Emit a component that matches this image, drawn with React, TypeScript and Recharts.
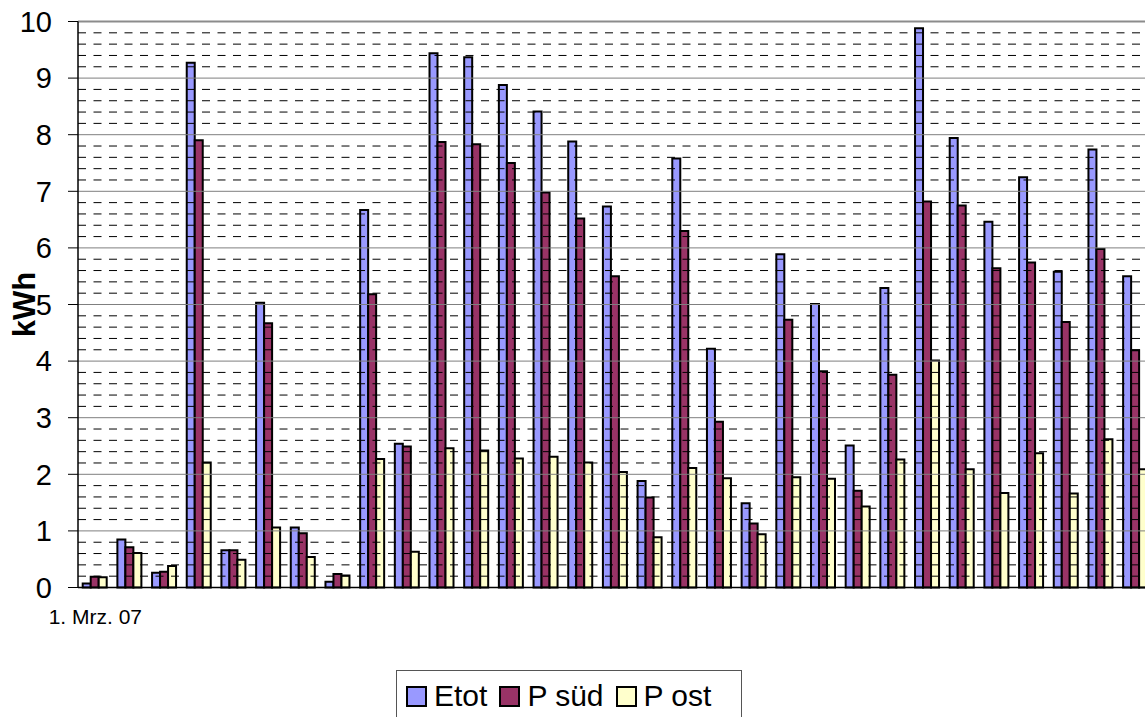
import React from "react";
import { BarChart, Bar, XAxis, YAxis, ReferenceLine } from "recharts";

const days = [
  "1. Mrz. 07", "2. Mrz. 07", "3. Mrz. 07", "4. Mrz. 07", "5. Mrz. 07", "6. Mrz. 07",
  "7. Mrz. 07", "8. Mrz. 07", "9. Mrz. 07", "10. Mrz. 07", "11. Mrz. 07", "12. Mrz. 07",
  "13. Mrz. 07", "14. Mrz. 07", "15. Mrz. 07", "16. Mrz. 07", "17. Mrz. 07", "18. Mrz. 07",
  "19. Mrz. 07", "20. Mrz. 07", "21. Mrz. 07", "22. Mrz. 07", "23. Mrz. 07", "24. Mrz. 07",
  "25. Mrz. 07", "26. Mrz. 07", "27. Mrz. 07", "28. Mrz. 07", "29. Mrz. 07", "30. Mrz. 07",
  "31. Mrz. 07",
];

const etot = [0.07, 0.85, 0.26, 9.27, 0.66, 5.03, 1.06, 0.1, 6.67, 2.54, 9.44, 9.37, 8.88, 8.41, 7.88, 6.73, 1.88, 7.58, 4.22, 1.49, 5.89, 5.01, 2.51, 5.29, 9.88, 7.94, 6.46, 7.25, 5.58, 7.74, 5.5];
const pSued = [0.19, 0.71, 0.28, 7.9, 0.66, 4.67, 0.96, 0.24, 5.18, 2.49, 7.87, 7.83, 7.5, 6.98, 6.52, 5.5, 1.59, 6.3, 2.93, 1.13, 4.73, 3.82, 1.71, 3.76, 6.82, 6.75, 5.64, 5.74, 4.69, 5.98, 4.19];
const pOst = [0.18, 0.61, 0.38, 2.21, 0.49, 1.06, 0.54, 0.21, 2.27, 0.63, 2.46, 2.42, 2.28, 2.31, 2.21, 2.04, 0.89, 2.11, 1.93, 0.94, 1.95, 1.92, 1.43, 2.26, 4.01, 2.09, 1.67, 2.37, 1.66, 2.62, 2.09];

const seriesNames = ["Etot", "P süd", "P ost"];
const seriesKeys = ["etot", "pSued", "pOst"];
const seriesColors = ["#9999FF", "#993366", "#FFFFCC"];

const yTicks = [0, 1, 2, 3, 4, 5, 6, 7, 8, 9, 10];
const minorValues: number[] = [];
for (let i = 0; i < 50; i++) {
  if (i % 5 !== 0) minorValues.push(i / 5);
}
const majorValues = [1, 2, 3, 4, 5, 6, 7, 8, 9];

const data = days.map((d, i) => ({
  day: d,
  etot: etot[i],
  pSued: pSued[i],
  pOst: pOst[i],
}));

const FONT = "'Liberation Sans', Arial, sans-serif";

const XTick = (props: any) => {
  const { x, y, index, payload } = props;
  if (index !== 0) return null;
  return (
    <text x={x} y={y} dy={28} textAnchor="middle" fontFamily={FONT} fontSize={21} fill="#000">
      {payload.value}
    </text>
  );
};

const YLabel = (props: any) => {
  const { viewBox } = props;
  const cy = viewBox.y + viewBox.height / 2;
  const x = 35;
  return (
    <text
      x={x}
      y={cy}
      transform={`rotate(-90, ${x}, ${cy})`}
      textAnchor="middle"
      fontFamily={FONT}
      fontWeight="bold"
      fontSize={31}
      fill="#000"
    >
      kWh
    </text>
  );
};

export default function App() {
  return (
    <div
      style={{
        position: "absolute",
        left: 0,
        top: 0,
        width: 1145,
        height: 717,
        overflow: "hidden",
        background: "#fff",
      }}
    >
      <BarChart
        width={1160}
        height={717}
        data={data}
        margin={{ top: 21.5, right: 6.9, left: 0, bottom: 99.5 }}
        barCategoryGap={4.7}
        barGap={0}
      >
        {minorValues.map((v) => (
          <ReferenceLine key={"m" + v} y={v} stroke="#000" strokeWidth={1} strokeDasharray="8 7.5" />
        ))}
        {majorValues.map((v) => (
          <ReferenceLine key={"M" + v} y={v} stroke="#7f7f7f" strokeWidth={1} />
        ))}
        <ReferenceLine y={10} stroke="#8c8c8c" strokeWidth={2} />
        <XAxis
          dataKey="day"
          interval={0}
          height={30}
          tickLine={false}
          tick={<XTick />}
          axisLine={{ stroke: "#000", strokeWidth: 1.5 }}
        />
        <YAxis
          domain={[0, 10]}
          ticks={yTicks}
          interval={0}
          width={78}
          tickSize={10}
          tickMargin={16}
          tick={{ fontFamily: FONT, fontSize: 29, fill: "#000" }}
          tickLine={{ stroke: "#000", strokeWidth: 1 }}
          axisLine={{ stroke: "#000", strokeWidth: 1.5 }}
          label={<YLabel />}
        />
        {seriesKeys.map((k, i) => (
          <Bar
            key={k}
            dataKey={k}
            name={seriesNames[i]}
            fill={seriesColors[i]}
            stroke="#000"
            strokeWidth={2}
            isAnimationActive={false}
          />
        ))}
      </BarChart>
      <div
        style={{
          position: "absolute",
          left: 396,
          top: 670,
          width: 346,
          height: 70,
          border: "1px solid #555",
          boxSizing: "border-box",
          display: "flex",
          alignItems: "flex-start",
          paddingLeft: 9,
          paddingTop: 8,
          fontFamily: FONT,
          fontSize: 30,
          lineHeight: "34px",
          color: "#000",
          background: "#fff",
        }}
      >
        {seriesNames.map((n, i) => (
          <div key={n} style={{ display: "flex", alignItems: "center", marginRight: 12 }}>
            <div
              style={{
                width: 21,
                height: 21,
                boxSizing: "border-box",
                border: "2px solid #000",
                background: seriesColors[i],
                marginRight: 7,
              }}
            />
            <span style={{ whiteSpace: "nowrap" }}>{n}</span>
          </div>
        ))}
      </div>
    </div>
  );
}
